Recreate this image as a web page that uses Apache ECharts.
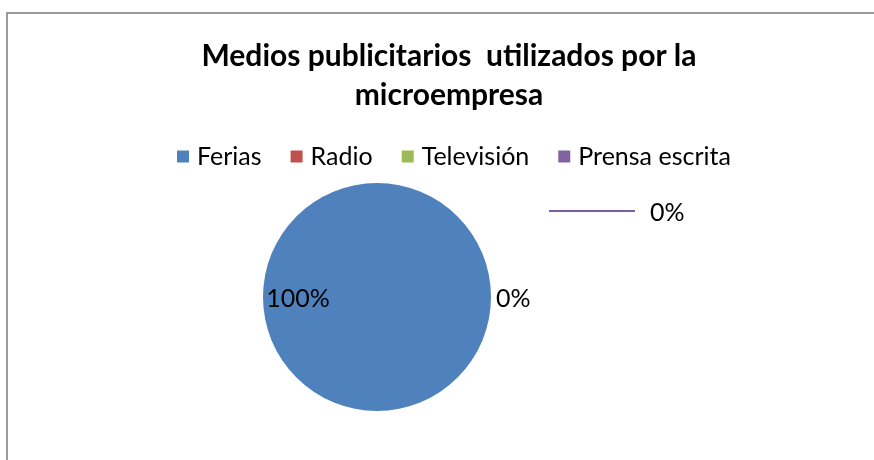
<!DOCTYPE html>
<html>
<head>
<meta charset="utf-8">
<script src="https://cdn.jsdelivr.net/npm/echarts@6/dist/echarts.min.js"></script>
<style>
  html, body { margin: 0; padding: 0; background: #fff; }
  #chart { position: absolute; left: 0; top: 0; width: 874px; height: 460px; }
  #frame { position: absolute; left: 6px; top: 12px; width: 900px; height: 500px;
           border: 2px solid #9a9a9a; box-sizing: border-box; pointer-events: none; }
</style>
</head>
<body>
<div id="chart"></div>
<div id="frame"></div>
<script>
const titleText = 'Medios publicitarios  utilizados por la\nmicroempresa';
const categories = ['Ferias', 'Radio', 'Televisión', 'Prensa escrita'];
const values = [100, 0, 0, 0];
const colors = ['#4f81bd', '#c0504d', '#9bbb59', '#8064a2'];

const FONT = 'Lato, "Open Sans", sans-serif';

const data = categories.map((name, i) => {
  const item = { name: name, value: values[i], itemStyle: { color: colors[i] } };
  if (i === 0) {
    item.label = { position: 'inside' };
  } else if (i === 1) {
    item.label = { position: 'outside' };
    item.labelLine = { show: false, length: 0, length2: 0 };
  } else if (i === 2) {
    item.label = { show: false };
    item.labelLine = { show: false };
  } else {
    item.label = {
      position: 'outside',
      formatter: p => '{ln| }{v|' + Math.round(p.percent) + '%}',
      rich: {
        ln: { width: 86, height: 2, backgroundColor: '#7a5fa0', verticalAlign: 'middle' },
        v: { fontSize: 25, fontFamily: FONT, color: '#000', padding: [4, 0, 0, 15], verticalAlign: 'middle' }
      }
    };
    item.labelLine = { show: false, length: 0, length2: 0 };
  }
  return item;
});

const chart = echarts.init(document.getElementById('chart'), null, { renderer: 'canvas' });
chart.setOption({
  animation: false,
  backgroundColor: 'transparent',
  title: {
    text: titleText,
    left: 444,
    top: 32,
    textAlign: 'center',
    textStyle: { fontFamily: FONT, fontSize: 30, fontWeight: 'bold', color: '#000', lineHeight: 39 }
  },
  legend: {
    data: categories,
    left: 172,
    top: 139,
    icon: 'rect',
    itemWidth: 12,
    itemHeight: 12,
    itemGap: 29,
    textStyle: { fontFamily: FONT, fontSize: 25, color: '#000', padding: [0, 0, 0, 3] }
  },
  series: [{
    type: 'pie',
    center: [377, 297],
    radius: 114,
    startAngle: 0,
    clockwise: true,
    avoidLabelOverlap: false,
    stillShowZeroSum: true,
    label: {
      show: true,
      fontFamily: FONT,
      fontSize: 25,
      color: '#000',
      formatter: p => Math.round(p.percent) + '%'
    },
    labelLine: { show: false, length: 0, length2: 0 },
    labelLayout: function (params) {
      if (params.dataIndex === 0) return { dx: -19, dy: 2 };
      if (params.dataIndex === 1) return { dy: 2 };
      if (params.dataIndex === 3) return { dx: 53, dy: -86 };
      return {};
    },
    emphasis: { disabled: true },
    data: data
  }]
});
</script>
</body>
</html>
